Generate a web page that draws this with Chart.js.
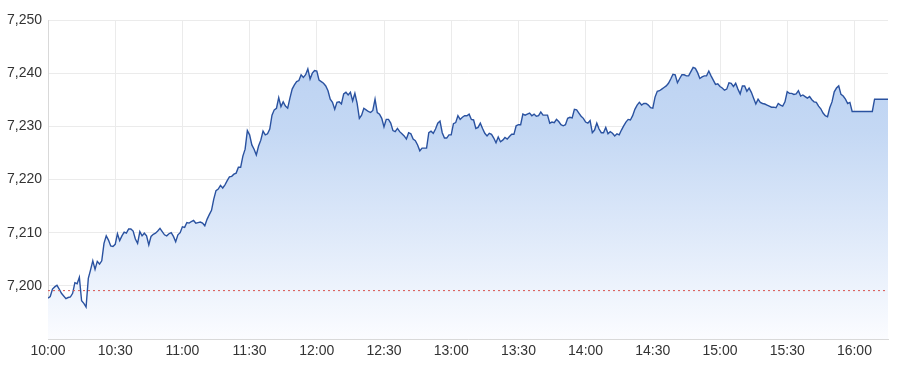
<!DOCTYPE html>
<html>
<head>
<meta charset="utf-8">
<title>Intraday index chart</title>
<script src="https://cdn.jsdelivr.net/npm/chart.js@4.4.1/dist/chart.umd.min.js"></script>
<style>
  html, body { margin: 0; padding: 0; background: #fff; }
  #wrap { width: 900px; height: 375px; }
</style>
</head>
<body>
<div id="wrap"><canvas id="intraday-chart"></canvas></div>
<script>
// minutes after 10:00 and index level
var minutes = [
  0, 1, 2, 3, 4, 5, 6, 8, 9, 10, 11, 12, 13, 14, 15, 16, 17, 18, 19, 20,
  21, 22, 23, 24, 25, 26, 27, 28, 29, 30, 31, 32, 33, 34, 35, 36, 37, 38, 39, 40,
  41, 42, 43, 44, 45, 46, 47, 48, 49, 50, 51, 52, 53, 54, 55, 56, 57, 58, 59, 60,
  61, 62, 63, 64, 65, 66, 67, 68, 69, 70, 71, 72, 73, 74, 75, 76, 77, 78, 79, 80,
  81, 82, 83, 84, 85, 86, 87, 88, 89, 90, 91, 92, 93, 94, 95, 96, 97, 98, 99, 100,
  101, 102, 103, 104, 105, 106, 107, 108, 109, 110, 111, 112, 113, 114, 115, 116, 117, 118, 119, 120,
  121, 122, 123, 124, 125, 126, 127, 128, 129, 130, 131, 132, 133, 134, 135, 136, 137, 138, 139, 140,
  141, 142, 143, 144, 145, 146, 147, 148, 149, 150, 151, 152, 153, 154, 155, 156, 157, 158, 159, 160,
  161, 162, 163, 164, 165, 166, 167, 168, 169, 170, 171, 172, 173, 174, 175, 176, 177, 178, 179, 180,
  181, 182, 183, 184, 185, 186, 187, 188, 189, 190, 191, 192, 193, 194, 195, 196, 197, 198, 199, 200,
  201, 202, 203, 204, 205, 206, 207, 208, 209, 210, 211, 212, 213, 214, 215, 216, 217, 218, 219, 220,
  221, 222, 223, 224, 225, 226, 227, 228, 229, 230, 231, 232, 233, 234, 235, 236, 237, 238, 239, 240,
  241, 242, 243, 244, 245, 246, 247, 248, 249, 250, 251, 252, 253, 254, 255, 256, 257, 258, 259, 260,
  261, 262, 263, 264, 265, 266, 267, 268, 269, 270, 271, 272, 273, 274, 275, 276, 277, 278, 279, 280,
  281, 282, 283, 284, 285, 286, 287, 288, 289, 290, 291, 292, 293, 294, 295, 296, 297, 298, 299, 300,
  301, 302, 303, 304, 305, 306, 307, 308, 309, 310, 311, 312, 313, 314, 315, 316, 317, 318, 319, 320,
  321, 322, 323, 324, 325, 326, 327, 328, 329, 330, 331, 332, 333, 334, 335, 336, 337, 338, 339, 340,
  341, 342, 343, 344, 345, 346, 347, 348, 349, 350, 351, 352, 353, 354, 355, 356, 357, 358, 359, 368,
  369, 375
];
var prices = [
  7197.7, 7198.0, 7199.4, 7199.8, 7200.1, 7199.4, 7198.6, 7197.6, 7197.8, 7197.9, 7198.6, 7200.6, 7200.4, 7201.6, 7197.2, 7196.7, 7196.0, 7201.4, 7203.0, 7204.7,
  7203.1, 7204.6, 7204.1, 7204.7, 7208.0, 7209.4, 7208.6, 7207.5, 7207.4, 7207.8, 7209.8, 7208.5, 7209.4, 7210.1, 7209.9, 7210.7, 7210.7, 7210.3, 7208.8, 7208.0,
  7210.2, 7209.4, 7209.9, 7209.4, 7207.7, 7209.3, 7209.7, 7209.9, 7210.3, 7210.8, 7210.2, 7209.6, 7209.4, 7209.8, 7210.0, 7209.3, 7208.3, 7209.6, 7210.0, 7211.1,
  7211.0, 7211.9, 7211.8, 7212.1, 7212.3, 7211.8, 7211.9, 7212.0, 7211.8, 7211.3, 7212.5, 7213.4, 7214.2, 7216.3, 7217.9, 7218.2, 7218.9, 7218.4, 7219.0, 7219.8,
  7220.5, 7220.6, 7221.0, 7221.2, 7222.3, 7222.3, 7224.4, 7225.7, 7229.2, 7228.4, 7226.5, 7225.7, 7224.6, 7226.3, 7227.4, 7229.1, 7228.4, 7228.6, 7229.5, 7232.1,
  7233.1, 7233.4, 7235.4, 7233.7, 7234.6, 7233.8, 7233.4, 7235.3, 7237.0, 7237.8, 7238.4, 7238.6, 7239.7, 7239.2, 7239.7, 7240.8, 7238.9, 7240.0, 7240.5, 7240.4,
  7238.7, 7238.4, 7238.1, 7237.6, 7236.7, 7235.1, 7234.5, 7233.2, 7234.5, 7234.6, 7234.2, 7236.1, 7236.4, 7235.9, 7236.4, 7234.8, 7236.2, 7234.3, 7231.5, 7232.1,
  7233.4, 7233.1, 7232.8, 7232.6, 7233.0, 7235.1, 7232.6, 7232.3, 7231.5, 7229.9, 7231.3, 7231.3, 7230.6, 7229.2, 7229.0, 7229.6, 7229.0, 7228.6, 7228.2, 7227.6,
  7228.8, 7228.6, 7227.6, 7227.3, 7226.5, 7225.4, 7225.9, 7225.9, 7225.9, 7228.8, 7229.1, 7228.7, 7229.5, 7230.6, 7231.0, 7228.8, 7227.8, 7227.8, 7228.4, 7228.4,
  7230.5, 7230.7, 7232.0, 7231.3, 7231.7, 7232.0, 7232.0, 7232.3, 7231.3, 7231.2, 7229.6, 7229.8, 7230.6, 7229.6, 7228.7, 7228.2, 7228.7, 7228.5, 7227.8, 7226.9,
  7228.0, 7227.1, 7227.4, 7227.9, 7227.6, 7228.1, 7228.5, 7228.5, 7230.1, 7230.3, 7230.3, 7232.3, 7232.1, 7232.3, 7232.5, 7232.0, 7232.3, 7231.9, 7232.0, 7232.7,
  7232.1, 7232.1, 7232.1, 7230.6, 7230.8, 7230.7, 7231.3, 7230.9, 7230.3, 7230.1, 7230.3, 7231.5, 7231.7, 7231.6, 7233.2, 7233.1, 7232.5, 7231.9, 7231.5, 7230.8,
  7230.6, 7231.1, 7228.8, 7229.3, 7230.6, 7229.5, 7228.8, 7228.8, 7229.8, 7228.6, 7229.0, 7228.7, 7228.2, 7228.6, 7228.4, 7229.3, 7230.1, 7230.8, 7231.3, 7231.2,
  7232.0, 7233.2, 7234.0, 7234.5, 7234.0, 7234.3, 7234.3, 7234.0, 7233.5, 7233.4, 7235.5, 7236.6, 7236.7, 7237.0, 7237.3, 7237.6, 7238.1, 7238.9, 7239.8, 7239.7,
  7238.2, 7239.0, 7239.7, 7239.7, 7239.5, 7239.5, 7240.3, 7241.1, 7240.9, 7240.1, 7239.0, 7239.3, 7239.5, 7239.5, 7240.4, 7239.5, 7238.7, 7237.9, 7238.0, 7237.5,
  7237.2, 7236.8, 7237.0, 7238.2, 7238.1, 7237.5, 7238.1, 7237.0, 7236.1, 7237.6, 7237.6, 7236.6, 7237.2, 7236.4, 7235.3, 7234.2, 7235.1, 7234.5, 7234.3, 7234.2,
  7234.0, 7233.8, 7233.6, 7233.6, 7233.5, 7234.3, 7234.0, 7233.8, 7234.6, 7236.5, 7236.2, 7236.2, 7236.0, 7236.1, 7236.7, 7235.7, 7235.9, 7235.6, 7235.3, 7235.6,
  7235.0, 7234.6, 7234.5, 7233.8, 7233.3, 7232.5, 7232.0, 7231.8, 7233.5, 7234.6, 7236.5, 7237.2, 7237.6, 7236.0, 7235.7, 7235.1, 7234.3, 7234.5, 7232.8, 7232.8,
  7235.1, 7235.1
];
var prevClose = 7199.1;
var tickLabels = ['10:00', '10:30', '11:00', '11:30', '12:00', '12:30', '13:00',
                  '13:30', '14:00', '14:30', '15:00', '15:30', '16:00'];

var pricePoints = minutes.map(function (m, i) { return { x: m, y: prices[i] }; });
var closePoints = [{ x: 0, y: prevClose }, { x: 375, y: prevClose }];

function areaFill(context) {
    var chart = context.chart;
    var area = chart.chartArea;
    if (!area) {
        return 'rgba(190, 212, 243, 0.8)';
    }
    var g = chart.ctx.createLinearGradient(0, area.top, 0, area.bottom);
    g.addColorStop(0, '#b8cff1');
    g.addColorStop(0.35, '#c4d8f4');
    g.addColorStop(0.7, '#e1ebfa');
    g.addColorStop(1, '#fbfcff');
    return g;
}

Chart.defaults.font.family = '"Liberation Sans", Arial, sans-serif';

const ctx = document.getElementById('intraday-chart').getContext('2d');
new Chart(ctx, {
    type: 'line',
    data: {
        datasets: [
            {
                label: 'Previous close',
                data: closePoints,
                borderColor: '#d9534f',
                borderWidth: 1,
                borderDash: [2, 3],
                pointRadius: 0,
                fill: false,
                order: 0
            },
            {
                label: 'Index',
                data: pricePoints,
                borderColor: '#2a52a0',
                borderWidth: 1.4,
                pointRadius: 0,
                tension: 0,
                fill: 'start',
                backgroundColor: areaFill,
                order: 1
            }
        ]
    },
    options: {
        responsive: true,
        maintainAspectRatio: false,
        animation: false,
        layout: { padding: { top: 20, right: 12, left: 0, bottom: 0 } },
        plugins: {
            legend: { display: false },
            tooltip: { enabled: false }
        },
        scales: {
            x: {
                type: 'linear',
                min: 0,
                max: 375,
                afterBuildTicks: function (scale) {
                    // one tick every half hour, 10:00 to 16:00
                    scale.ticks = tickLabels.map(function (l, i) { return { value: i * 30 }; });
                },
                afterFit: function (scale) { scale.height = 36; },
                ticks: {
                    padding: 4,
                    color: '#333',
                    font: { size: 14 },
                    maxRotation: 0,
                    autoSkip: false,
                    callback: function (v) { return tickLabels[Math.round(v / 30)]; }
                },
                grid: { color: '#ebebeb', drawTicks: false },
                border: { color: '#d9d9d9' }
            },
            y: {
                min: 7190,
                max: 7250,
                afterFit: function (scale) { scale.width = 48; },
                ticks: {
                    stepSize: 10,
                    padding: 6,
                    color: '#333',
                    font: { size: 14 },
                    callback: function (v) { return v === 7190 ? '' : v.toLocaleString('en-US'); }
                },
                grid: { color: '#ebebeb', drawTicks: false },
                border: { color: '#d9d9d9' }
            }
        }
    }
});
</script>
</body>
</html>
